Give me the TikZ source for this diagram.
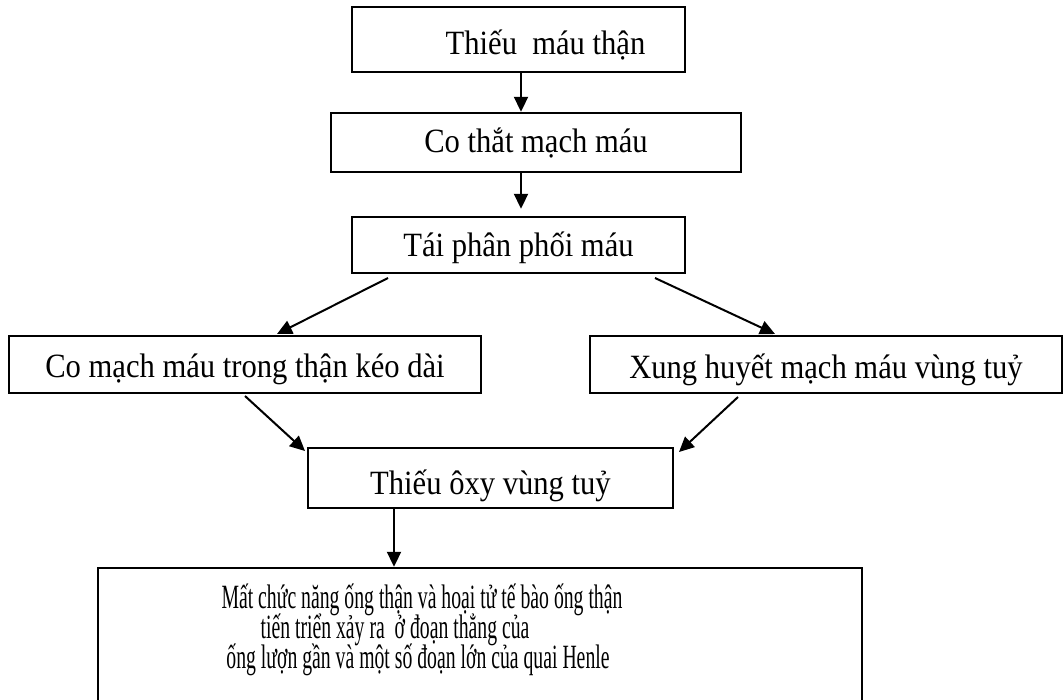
\documentclass[tikz,border=0pt]{standalone}
\usepackage{fontspec}
\setmainfont{Liberation Serif}[FakeStretch=0.9]
\newfontfamily\narrowserif{Liberation Serif}[FakeStretch=0.58]
\usetikzlibrary{arrows.meta}
\begin{document}
\begin{tikzpicture}[x=1pt,y=-1pt,
  box/.style={draw,line width=2.4pt,inner sep=0pt,anchor=center,
    text depth=0pt,font=\fontsize{34}{38}\selectfont},
  line/.style={anchor=base,inner sep=0pt,
    font=\narrowserif\fontsize{34}{30}\selectfont},
  arr/.style={line width=2pt,-{Triangle[length=15pt,width=14pt]}}]
\clip (0,0) rectangle (1064,700);
\fill[white] (0,0) rectangle (1064,700);

% boxes of the flow chart (text height sets where the baseline sits)
\node[box,minimum width=333pt,minimum height=65pt,text height=31pt] (b1) at (518.5,39.5)
  {\hspace{54pt}Thiếu~~máu thận};
\node[box,minimum width=410pt,minimum height=59pt,text height=21pt] (b2) at (536,142.5)
  {Co thắt mạch máu};
\node[box,minimum width=333pt,minimum height=56pt,text height=24pt] (b3) at (518.5,245)
  {Tái phân phối máu};
\node[box,minimum width=472pt,minimum height=57pt,text height=25pt] (b4) at (245,364.5)
  {Co mạch máu trong thận kéo dài};
\node[box,minimum width=472pt,minimum height=57pt,text height=27pt] (b5) at (826,364.5)
  {Xung huyết mạch máu vùng tuỷ};
\node[box,minimum width=365pt,minimum height=60pt,text height=32pt] (b6) at (490.5,478)
  {Thiếu ôxy vùng tuỷ};
\node[box,minimum width=764pt,minimum height=160pt] (b7) at (480,648) {};

% the three lines of the last box
\node[line] (t7a) at (422,608) {Mất chức năng ống thận và hoại tử tế bào ống thận};
\node[line] (t7b) at (395,638) {tiến triển xảy ra~~ở đoạn thẳng của};
\node[line] (t7c) at (418,668) {ống lượn gần và một số đoạn lớn của quai Henle};

% connector end points
\coordinate (x1) at (521,0);
\coordinate (x7) at (394,0);
\coordinate (s3) at (388,278);  \coordinate (e3) at (277,334);
\coordinate (s4) at (655,278);  \coordinate (e4) at (775,334);
\coordinate (s5) at (245,396);  \coordinate (e5) at (305,451);
\coordinate (s6) at (738,397);  \coordinate (e6) at (679,452);

% connectors
\draw[arr] (b1.south -| x1) -- (b2.north -| x1);
\draw[arr,shorten >=7pt] (b2.south -| x1) -- (b3.north -| x1);
\draw[arr] (s3) -- (e3);
\draw[arr] (s4) -- (e4);
\draw[arr] (s5) -- (e5);
\draw[arr] (s6) -- (e6);
\draw[arr] (b6.south -| x7) -- (b7.north -| x7);
\end{tikzpicture}
\end{document}
